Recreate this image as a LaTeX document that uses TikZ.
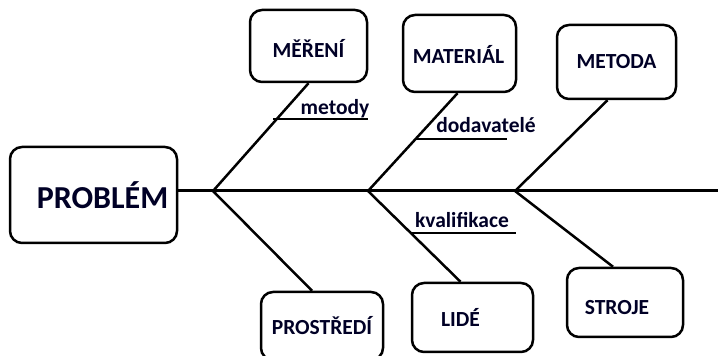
\documentclass[tikz,border=0pt]{standalone}
\usepackage{fontspec}
\setmainfont{Carlito}
\begin{document}
\begin{tikzpicture}[x=1pt,y=1pt,
  box/.style={draw=black, line width=2.5pt, rounded corners=12pt, fill=white, inner sep=0pt},
  boxtext/.style={font=\fontsize{21.5}{23}\selectfont\bfseries, text=black!85!blue},
  cause/.style={font=\fontsize{21.5}{23}\selectfont\bfseries, text=black!85!blue, anchor=base},
  bone/.style={draw=black, line width=2.5pt},
  spine/.style={draw=black, line width=3pt}]
\useasboundingbox (0,0) rectangle (718,356);
% problem head and main spine
\node[box, minimum width=167, minimum height=96,
      label={[boxtext, font=\fontsize{32}{34}\selectfont\bfseries, xshift=9, yshift=0]center:PROBLÉM}]
      (prob) at (93.5,161) {};
\coordinate (end) at (718,165);
\coordinate (j1) at (213,165);
\coordinate (j2) at (368,165);
\coordinate (j3) at (515,165);
\draw[spine] (prob.east |- end) -- (end);
% upper causes
\node[box, minimum width=117, minimum height=72,
      label={[boxtext, yshift=-2]center:MĚŘENÍ}] (mereni) at (308.5,310) {};
\node[box, minimum width=113, minimum height=77,
      label={[boxtext, xshift=-1, yshift=-1]center:MATERIÁL}] (material) at (459.5,302.5) {};
\node[box, minimum width=119, minimum height=74,
      label={[boxtext]center:METODA}] (metoda) at (616.5,294) {};
\draw[bone] (j1) -- (mereni.south);
\draw[bone] (j2) -- ([xshift=-2]material.south);
\draw[bone] (j3) -- ([xshift=-9]metoda.south);
% lower causes
\node[box, minimum width=122, minimum height=68,
      label={[boxtext]center:PROSTŘEDÍ}] (prostredi) at (322,30) {};
\node[box, minimum width=121, minimum height=69,
      label={[boxtext, xshift=-12]center:LIDÉ}] (lide) at (472.5,38.5) {};
\node[box, minimum width=116, minimum height=69,
      label={[boxtext, xshift=-8, yshift=-5]center:STROJE}] (stroje) at (625,53.5) {};
\draw[bone] (j1) -- ([xshift=-10]prostredi.north);
\draw[bone] (j2) -- ([xshift=-12]lide.north);
\draw[bone] (j3) -- ([xshift=-12]stroje.north);
% sub-causes
\coordinate (m1) at (273,237);
\coordinate (m2) at (368,237);
\draw[bone] (m1) -- (m2);
\node[cause] (metody) at (335,241) {metody};
\coordinate (d1) at (416,217);
\coordinate (d2) at (507,217);
\draw[bone] (d1) -- (d2);
\node[cause] (dodavatele) at (486,223) {dodavatelé};
\coordinate (k1) at (410,123);
\coordinate (k2) at (516,123);
\draw[bone] (k1) -- (k2);
\node[cause] (kvalifikace) at (462,128) {kvalifikace};
\end{tikzpicture}
\end{document}
